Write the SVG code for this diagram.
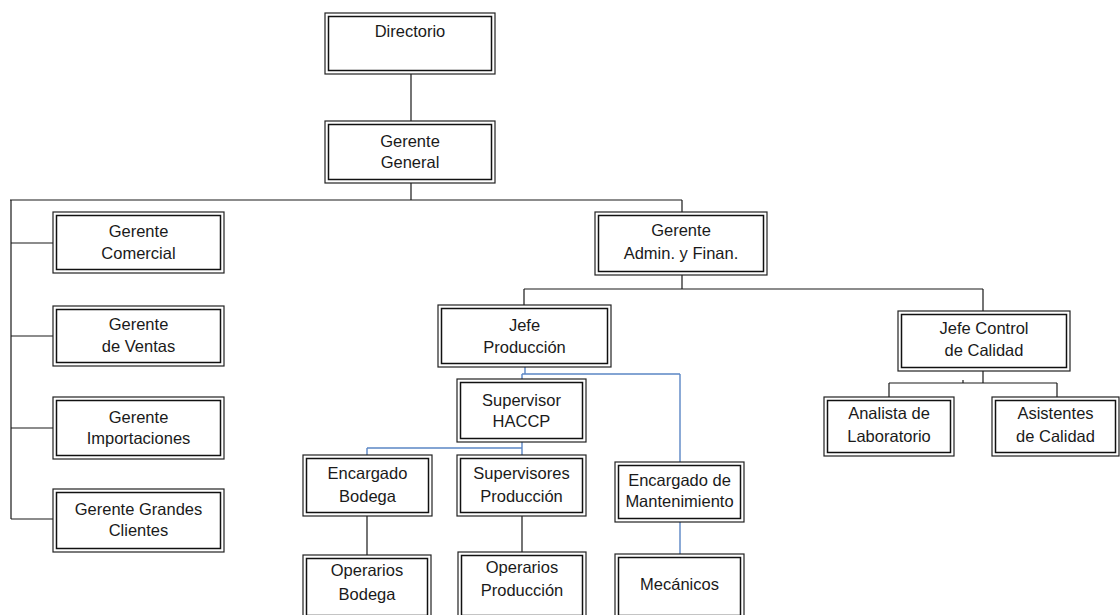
<svg xmlns="http://www.w3.org/2000/svg" width="1120" height="615" viewBox="0 0 1120 615">
<style>
.o{fill:#fff;stroke:#222;stroke-width:1.2}
.i{fill:none;stroke:#111;stroke-width:1.5}
.t{font-family:"Liberation Sans",Arial,sans-serif;font-size:16.5px;fill:#1a1a1a;text-anchor:middle}
.k{stroke:#1a1a1a;stroke-width:1.2;fill:none}
.b{stroke:#5b86c5;stroke-width:1.4;fill:none}
</style>
<rect width="1120" height="615" fill="#fff"/>
<g id="connectors">
<path class="k" d="M411 74V121M411 183V200M10 200H682M11 200V519M11 243H53M11 336H53M11 428H53M11 519H53M682 200V212M682 275V289M524 289H983M524 289V305M983 289V311M983 371V383M889 383H1057M889 383V397M1057 383V397M963 380V383M367 516V555M522 516V552"/>
<path class="b" d="M525 367V374M522 374H680M522 374V379M680 374V462M522 442V448M367 448H522M367 448V455M522 448V455M680 522V554"/>
</g>
<g id="directorio"><rect class="o" x="325" y="13" width="170" height="61"/><rect class="i" x="328.5" y="16.5" width="163" height="54"/><text class="t" x="410" y="37">Directorio</text></g>
<g id="gerente-general"><rect class="o" x="325" y="121" width="170" height="62"/><rect class="i" x="328.5" y="124.5" width="163" height="55"/><text class="t" x="410" y="147">Gerente</text><text class="t" x="410" y="168">General</text></g>
<g id="gerente-comercial"><rect class="o" x="53" y="212" width="171" height="61"/><rect class="i" x="56.5" y="215.5" width="164" height="54"/><text class="t" x="138.5" y="237">Gerente</text><text class="t" x="138.5" y="259">Comercial</text></g>
<g id="gerente-ventas"><rect class="o" x="53" y="306" width="171" height="60"/><rect class="i" x="56.5" y="309.5" width="164" height="53"/><text class="t" x="138.5" y="330">Gerente</text><text class="t" x="138.5" y="352">de Ventas</text></g>
<g id="gerente-importaciones"><rect class="o" x="53" y="397" width="171" height="62"/><rect class="i" x="56.5" y="400.5" width="164" height="55"/><text class="t" x="138.5" y="423">Gerente</text><text class="t" x="138.5" y="444">Importaciones</text></g>
<g id="gerente-grandes-clientes"><rect class="o" x="53" y="489" width="171" height="63"/><rect class="i" x="56.5" y="492.5" width="164" height="56"/><text class="t" x="138.5" y="515">Gerente Grandes</text><text class="t" x="138.5" y="536">Clientes</text></g>
<g id="gerente-admin"><rect class="o" x="595" y="212" width="172" height="63"/><rect class="i" x="598.5" y="215.5" width="165" height="56"/><text class="t" x="681" y="236">Gerente</text><text class="t" x="681" y="259">Admin. y Finan.</text></g>
<g id="jefe-produccion"><rect class="o" x="438" y="305" width="173" height="62"/><rect class="i" x="441.5" y="308.5" width="166" height="55"/><text class="t" x="524.5" y="331">Jefe</text><text class="t" x="524.5" y="353">Producción</text></g>
<g id="jefe-control"><rect class="o" x="898" y="311" width="172" height="60"/><rect class="i" x="901.5" y="314.5" width="165" height="53"/><text class="t" x="984" y="334">Jefe Control</text><text class="t" x="984" y="356">de Calidad</text></g>
<g id="supervisor-haccp"><rect class="o" x="457" y="379" width="129" height="63"/><rect class="i" x="460.5" y="382.5" width="122" height="56"/><text class="t" x="521.5" y="406">Supervisor</text><text class="t" x="521.5" y="427">HACCP</text></g>
<g id="encargado-bodega"><rect class="o" x="303" y="455" width="129" height="61"/><rect class="i" x="306.5" y="458.5" width="122" height="54"/><text class="t" x="367.5" y="479">Encargado</text><text class="t" x="367.5" y="502">Bodega</text></g>
<g id="supervisores-produccion"><rect class="o" x="457" y="455" width="129" height="61"/><rect class="i" x="460.5" y="458.5" width="122" height="54"/><text class="t" x="521.5" y="479">Supervisores</text><text class="t" x="521.5" y="502">Producción</text></g>
<g id="encargado-mantenimiento"><rect class="o" x="615" y="462" width="129" height="60"/><rect class="i" x="618.5" y="465.5" width="122" height="53"/><text class="t" x="679.5" y="486">Encargado de</text><text class="t" x="679.5" y="507">Mantenimiento</text></g>
<g id="analista"><rect class="o" x="824" y="397" width="130" height="59"/><rect class="i" x="827.5" y="400.5" width="123" height="52"/><text class="t" x="889" y="419">Analista de</text><text class="t" x="889" y="442">Laboratorio</text></g>
<g id="asistentes"><rect class="o" x="992" y="397" width="127" height="59"/><rect class="i" x="995.5" y="400.5" width="120" height="52"/><text class="t" x="1055.5" y="419">Asistentes</text><text class="t" x="1055.5" y="442">de Calidad</text></g>
<g id="operarios-bodega"><rect class="o" x="303" y="555" width="128" height="64"/><rect class="i" x="306.5" y="558.5" width="121" height="57"/><text class="t" x="367" y="576">Operarios</text><text class="t" x="367" y="600">Bodega</text></g>
<g id="operarios-produccion"><rect class="o" x="458" y="552" width="128" height="67"/><rect class="i" x="461.5" y="555.5" width="121" height="60"/><text class="t" x="522" y="573">Operarios</text><text class="t" x="522" y="596">Producción</text></g>
<g id="mecanicos"><rect class="o" x="615" y="554" width="129" height="65"/><rect class="i" x="618.5" y="557.5" width="122" height="58"/><text class="t" x="679.5" y="590">Mecánicos</text></g>
</svg>
